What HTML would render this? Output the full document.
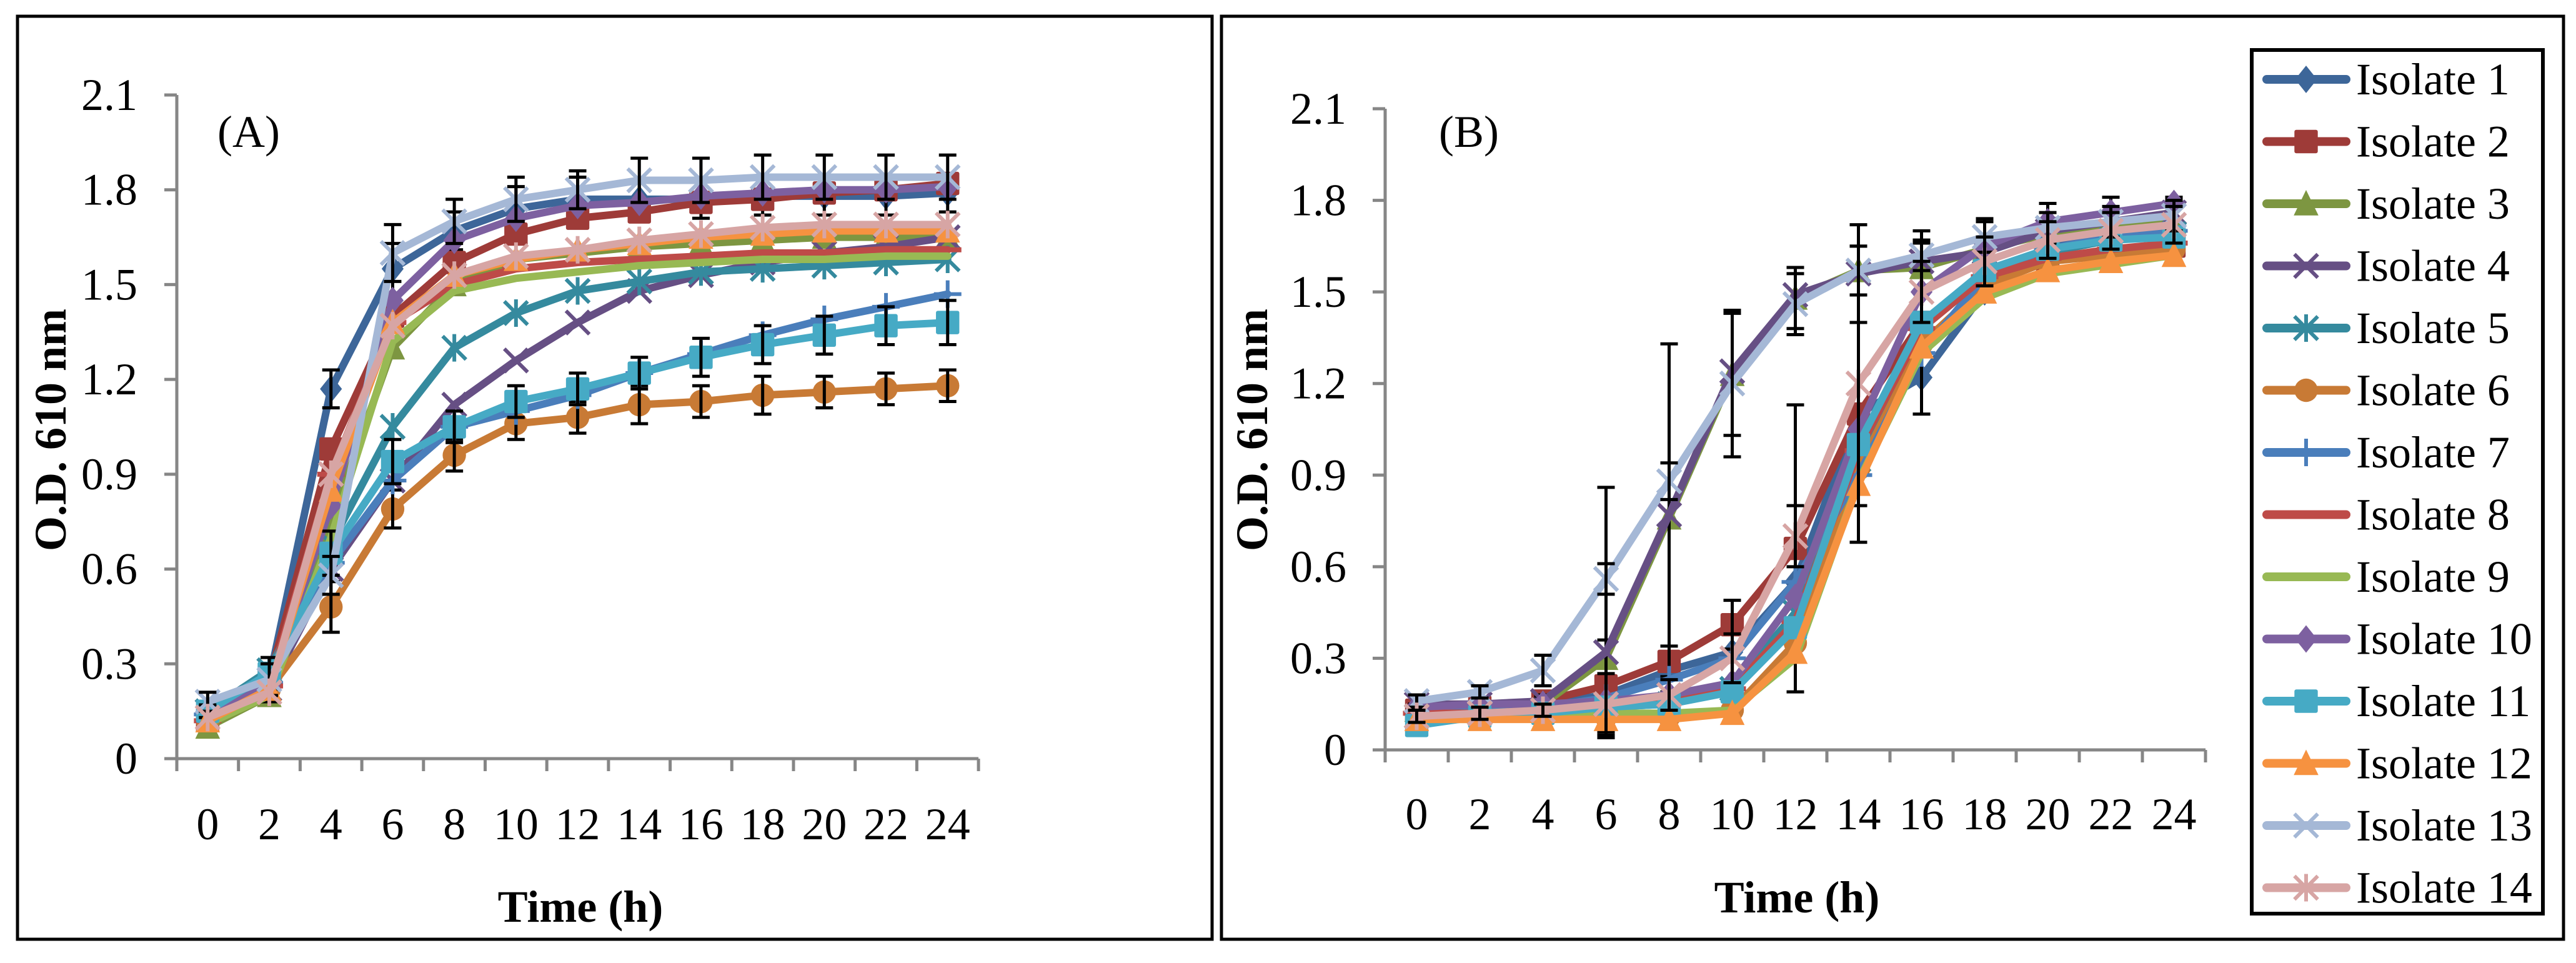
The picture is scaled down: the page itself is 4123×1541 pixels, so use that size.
<!DOCTYPE html>
<html><head><meta charset="utf-8">
<style>
html,body{margin:0;padding:0;background:#fff;}
svg{display:block;font-family:"Liberation Serif","Times New Roman","DejaVu Serif",serif;}
svg text{font-family:"Liberation Serif","Times New Roman","DejaVu Serif",serif;}
</style></head>
<body>
<svg id="chart" width="4123" height="1541" viewBox="0 0 4123 1541" xmlns="http://www.w3.org/2000/svg">
<rect x="0" y="0" width="4123" height="1541" fill="#fff"/>
<rect x="28" y="26" width="1912" height="1477" fill="none" stroke="#000" stroke-width="5"/>
<rect x="1955" y="26" width="2148" height="1477" fill="none" stroke="#000" stroke-width="5"/>
<g id="panelA"></g>
<g id="panelB"></g>
<g id="legend"></g>
</svg>
<script>
const categories = [0,2,4,6,8,10,12,14,16,18,20,22,24];
const yTicks = [0,0.3,0.6,0.9,1.2,1.5,1.8,2.1];
const yTickLabels = ["0","0.3","0.6","0.9","1.2","1.5","1.8","2.1"];
const seriesNames = ["Isolate 1","Isolate 2","Isolate 3","Isolate 4","Isolate 5","Isolate 6","Isolate 7","Isolate 8","Isolate 9","Isolate 10","Isolate 11","Isolate 12","Isolate 13","Isolate 14"];

// Panel A values
const a1  = [0.13,0.25,1.17,1.55,1.67,1.74,1.77,1.77,1.77,1.78,1.78,1.78,1.79];
const a2  = [0.12,0.25,0.98,1.40,1.57,1.66,1.71,1.73,1.76,1.77,1.79,1.80,1.82];
const a3  = [0.10,0.20,0.75,1.30,1.50,1.58,1.60,1.62,1.63,1.64,1.65,1.65,1.65];
const a4  = [0.15,0.22,0.60,0.88,1.12,1.26,1.38,1.48,1.53,1.57,1.60,1.62,1.65];
const a5  = [0.15,0.28,0.68,1.05,1.30,1.41,1.48,1.51,1.54,1.55,1.56,1.57,1.58];
const a6  = [0.12,0.22,0.48,0.79,0.96,1.06,1.08,1.12,1.13,1.15,1.16,1.17,1.18];
const a7  = [0.14,0.24,0.62,0.88,1.05,1.10,1.15,1.22,1.28,1.34,1.39,1.43,1.47];
const a8  = [0.12,0.23,0.90,1.38,1.50,1.55,1.57,1.58,1.59,1.60,1.60,1.61,1.61];
const a9  = [0.11,0.20,0.70,1.32,1.48,1.52,1.54,1.56,1.57,1.58,1.58,1.59,1.59];
const a10 = [0.14,0.23,0.80,1.45,1.64,1.71,1.75,1.76,1.78,1.79,1.80,1.80,1.81];
const a11 = [0.15,0.27,0.65,0.94,1.05,1.13,1.17,1.22,1.27,1.31,1.34,1.37,1.38];
const a12 = [0.12,0.22,0.85,1.38,1.53,1.58,1.61,1.63,1.65,1.66,1.67,1.67,1.67];
const a13 = [0.18,0.25,0.58,1.60,1.70,1.77,1.80,1.83,1.83,1.84,1.84,1.84,1.84];
const a14 = [0.13,0.21,0.90,1.37,1.53,1.59,1.61,1.64,1.66,1.68,1.69,1.69,1.69];
const aErr1  = [0.03,0.05,0.06,0.08,0.06,0.07,0.07,0.06,0.06,0.06,0.06,0.06,0.06];
const aErr13 = [0.03,0.05,0.06,0.09,0.07,0.07,0.06,0.07,0.07,0.07,0.07,0.07,0.07];
const aErr6  = [0.02,0.04,0.08,0.06,0.05,0.05,0.05,0.06,0.05,0.06,0.05,0.05,0.05];
const aErr11 = [0.02,0.05,0.07,0.07,0.05,0.05,0.05,0.05,0.06,0.06,0.06,0.06,0.07];

// Panel B values
const b1  = [0.12,0.13,0.15,0.18,0.26,0.32,0.55,1.10,1.22,1.50,1.64,1.70,1.72];
const b2  = [0.13,0.14,0.16,0.21,0.29,0.41,0.66,1.10,1.40,1.55,1.60,1.63,1.65];
const b3  = [0.13,0.14,0.15,0.30,0.76,1.23,1.48,1.57,1.58,1.64,1.69,1.71,1.73];
const b4  = [0.15,0.15,0.16,0.32,0.77,1.24,1.49,1.56,1.60,1.63,1.70,1.73,1.76];
const b5  = [0.11,0.12,0.13,0.14,0.15,0.20,0.45,0.95,1.38,1.55,1.63,1.67,1.69];
const b6  = [0.10,0.11,0.11,0.11,0.11,0.13,0.35,0.92,1.33,1.52,1.60,1.62,1.64];
const b7  = [0.12,0.13,0.14,0.17,0.23,0.30,0.55,0.90,1.30,1.55,1.64,1.68,1.70];
const b8  = [0.12,0.12,0.13,0.15,0.17,0.20,0.42,0.98,1.38,1.55,1.61,1.64,1.66];
const b9  = [0.10,0.10,0.11,0.12,0.12,0.13,0.30,0.88,1.30,1.48,1.56,1.59,1.62];
const b10 = [0.14,0.15,0.15,0.16,0.18,0.22,0.50,1.05,1.50,1.65,1.73,1.76,1.79];
const b11 = [0.08,0.11,0.12,0.14,0.15,0.19,0.40,1.00,1.40,1.57,1.64,1.67,1.68];
const b12 = [0.10,0.10,0.10,0.10,0.10,0.12,0.32,0.87,1.32,1.50,1.57,1.60,1.62];
const b13 = [0.16,0.19,0.26,0.56,0.88,1.20,1.46,1.57,1.62,1.68,1.71,1.73,1.75];
const b14 = [0.11,0.12,0.13,0.15,0.18,0.30,0.70,1.20,1.50,1.60,1.67,1.70,1.72];
const bErr3  = [0.02,0.02,0.02,0.56,0.57,0.20,0.10,0.08,0.08,0.10,0.10,0.10,0.08];
const bErr13 = [0.02,0.02,0.05,0.05,0.06,0.24,0.10,0.08,0.05,0.05,0.05,0.05,0.05];
const bErr2  = [0.02,0.02,0.02,0.15,0.05,0.08,0.47,0.30,0.30,0.08,0.06,0.06,0.06];
const bErr14 = [0.02,0.02,0.02,0.10,0.05,0.08,0.10,0.52,0.10,0.08,0.06,0.06,0.06];

const colors = ["#3D6699","#9E3B38","#7D9641","#664F84","#358A9E","#C87A35","#4A7EBB","#BE4B48","#98B954","#7D60A0","#46AAC5","#F69240","#A5B8D6","#D7A5A4"];
const markers = ["diamond","square","triangle","x","star","circle","plus","dash","none","diamond","square","triangle","x","star"];
const FONT = "'Liberation Serif', 'Times New Roman', 'DejaVu Serif', serif";

const NS = "http://www.w3.org/2000/svg";
function el(tag, attrs, parent){const e=document.createElementNS(NS,tag);for(const k in attrs)e.setAttribute(k,attrs[k]);parent.appendChild(e);return e;}

function drawMarker(g, type, cx, cy, color, s){
  let m=null;
  if(type==="diamond") m=el("polygon",{points:`${cx},${cy-s} ${cx+s*0.8},${cy} ${cx},${cy+s} ${cx-s*0.8},${cy}`,fill:color},g);
  else if(type==="square") m=el("rect",{x:cx-s*0.85,y:cy-s*0.85,width:s*1.7,height:s*1.7,rx:3,fill:color},g);
  else if(type==="triangle") m=el("polygon",{points:`${cx},${cy-s} ${cx+s*0.9},${cy+s*0.85} ${cx-s*0.9},${cy+s*0.85}`,fill:color},g);
  else if(type==="circle") m=el("circle",{cx:cx,cy:cy,r:s*0.85,fill:color},g);
  else if(type==="x"||type==="star"||type==="plus"){
    m=el("g",{},g);
    const d=s*0.85;
    if(type!=="plus"){
      el("line",{x1:cx-d,y1:cy-d,x2:cx+d,y2:cy+d,stroke:color,"stroke-width":6},m);
      el("line",{x1:cx-d,y1:cy+d,x2:cx+d,y2:cy-d,stroke:color,"stroke-width":6},m);
    }
    if(type!=="x") el("line",{x1:cx,y1:cy-s,x2:cx,y2:cy+s,stroke:color,"stroke-width":6},m);
    if(type==="plus") el("line",{x1:cx-s,y1:cy,x2:cx+s,y2:cy,stroke:color,"stroke-width":6},m);
  } else if(type==="dash") m=el("line",{x1:cx-s,y1:cy,x2:cx+s,y2:cy,stroke:color,"stroke-width":8},g);
  if(m){
    
    
  }
}

function mkText(parent, attrs, str){
  const t=el("text",attrs,parent);
  t.style.fontFamily=FONT;
  t.textContent=str;
  return t;
}

function drawPanel(gid, cfg, series, errs){
  const g=document.getElementById(gid);
  const xAxis=i=>cfg.x0+cfg.step*(i+0.5);
  const yAxis=v=>cfg.yBottom-(v/2.1)*(cfg.yBottom-cfg.yTop);
  const ya=el("line",{x1:cfg.x0,y1:cfg.yTop,x2:cfg.x0,y2:cfg.yBottom,stroke:"#868686","stroke-width":5},g);
  
  
  yTicks.forEach((t,i)=>{
    const y=yAxis(t);
    el("line",{x1:cfg.x0-20,y1:y,x2:cfg.x0,y2:y,stroke:"#868686","stroke-width":5},g);
    const tx=mkText(g,{x:cfg.yLabelRight,y:y+24,"font-size":72,"text-anchor":"end",fill:"#000"},yTickLabels[i]);
    
    
  });
  const xEnd=cfg.x0+cfg.step*categories.length;
  const xa=el("line",{x1:cfg.x0-20,y1:cfg.yBottom,x2:xEnd,y2:cfg.yBottom,stroke:"#868686","stroke-width":5},g);
  
  
  for(let i=0;i<=categories.length;i++){
    const x=cfg.x0+cfg.step*i;
    el("line",{x1:x,y1:cfg.yBottom,x2:x,y2:cfg.yBottom+20,stroke:"#868686","stroke-width":5},g);
  }
  categories.forEach((c,i)=>{
    const tx=mkText(g,{x:xAxis(i),y:cfg.xLabelY,"font-size":72,"text-anchor":"middle",fill:"#000"},String(c));
    
    
  });
  const xt=mkText(g,{x:cfg.xTitleX,y:cfg.xTitleY,"font-size":72,"font-weight":"bold","text-anchor":"middle",fill:"#000"},"Time (h)");
  
  
  const yt=mkText(g,{x:0,y:0,"font-size":72,"font-weight":"bold","text-anchor":"middle",fill:"#000",transform:`translate(${cfg.yTitleX},${cfg.yTitleY}) rotate(-90)`},"O.D. 610 nm");
  
  
  const pl=mkText(g,{x:cfg.panelLabelX,y:235,"font-size":72,fill:"#000"},cfg.panelLabel);
  
  

  series.forEach((vals,si)=>{
    const sg=el("g",{},g);
    
    
    const pts=vals.map((v,i)=>`${xAxis(i)},${yAxis(v)}`).join(" ");
    const line=el("polyline",{points:pts,fill:"none",stroke:colors[si],"stroke-width":12,"stroke-linejoin":"round","stroke-linecap":"round"},sg);
    
    
    vals.forEach((v,i)=>drawMarker(sg,markers[si],xAxis(i),yAxis(v),colors[si],22));
    const er=errs[si];
    if(er){
      vals.forEach((v,i)=>{
        const x=xAxis(i), yh=yAxis(v+er[i]), yl=yAxis(Math.max(0.04,v-er[i]));
        const eb=el("path",{d:`M${x},${yh}L${x},${yl}M${x-14},${yh}L${x+14},${yh}M${x-14},${yl}L${x+14},${yl}`,stroke:"#000","stroke-width":5,fill:"none"},sg);
        
        
      });
    }
  });
}

drawPanel("panelA",{x0:283,step:98.7,yTop:152,yBottom:1214,yLabelRight:220,xLabelY:1343,xTitleX:929,xTitleY:1475,yTitleX:105,yTitleY:688,panelLabelX:348,panelLabel:"(A)"},
  [a1,a2,a3,a4,a5,a6,a7,a8,a9,a10,a11,a12,a13,a14],
  {0:aErr1,5:aErr6,10:aErr11,12:aErr13});
drawPanel("panelB",{x0:2217,step:101,yTop:174,yBottom:1200,yLabelRight:2155,xLabelY:1327,xTitleX:2876,xTitleY:1460,yTitleX:2028,yTitleY:688,panelLabelX:2303,panelLabel:"(B)"},
  [b1,b2,b3,b4,b5,b6,b7,b8,b9,b10,b11,b12,b13,b14],
  {1:bErr2,2:bErr3,12:bErr13,13:bErr14});

(function(){
  const g=document.getElementById("legend");
  const box=el("rect",{x:3604,y:80,width:466,height:1382,fill:"#fff",stroke:"#000","stroke-width":6},g);
  
  
  seriesNames.forEach((n,i)=>{
    const y=127+i*99.5;
    const eg=el("g",{},g);
    
    
    el("line",{x1:3628,y1:y,x2:3755,y2:y,stroke:colors[i],"stroke-width":14,"stroke-linecap":"round"},eg);
    drawMarker(eg,markers[i],3691,y,colors[i],22);
    mkText(eg,{x:3771,y:y+24,"font-size":72,fill:"#000"},n);
  });
})();
</script>
</body></html>
